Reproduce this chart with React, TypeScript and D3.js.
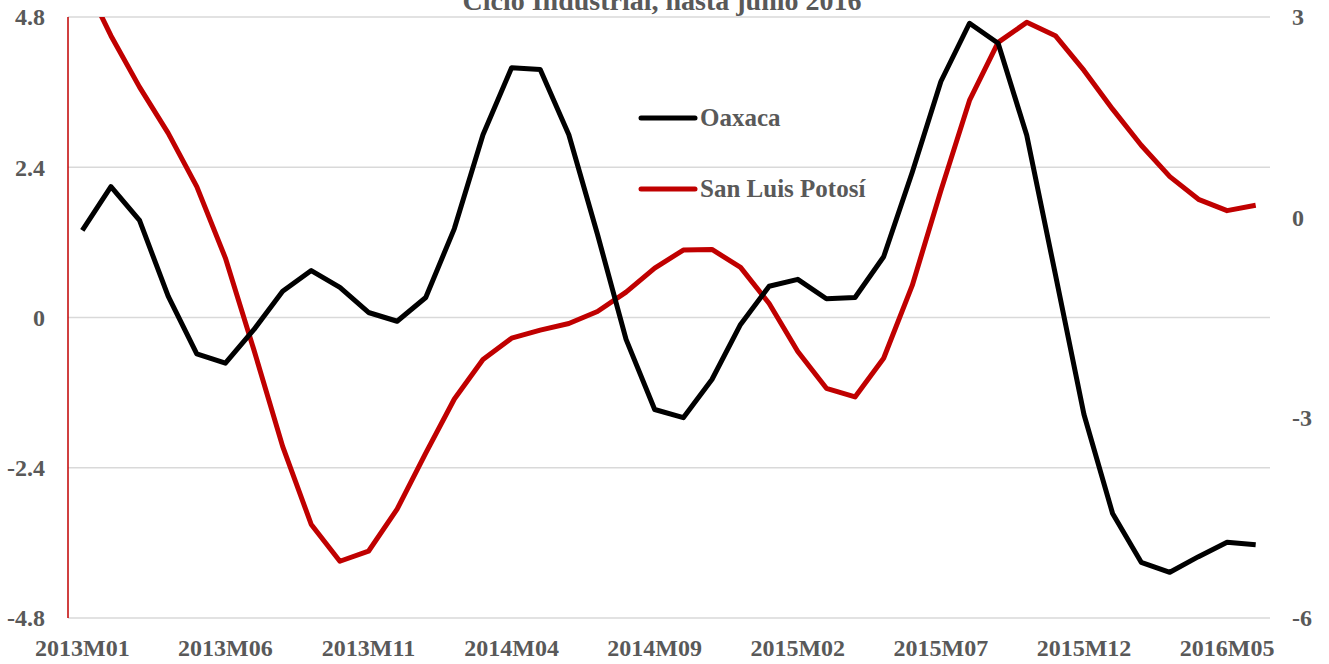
import { useMemo } from 'react';
import * as d3 from 'd3';

const WIDTH = 1329;
const HEIGHT = 664;
const MARGIN = { top: 17, right: 59, bottom: 46, left: 68 };

const TITLE = 'Ciclo Industrial, hasta junio 2016';

const years = ['2013', '2014', '2015', '2016'];
const months = ['01', '02', '03', '04', '05', '06', '07', '08', '09', '10', '11', '12'];
// 2013M01 .. 2016M06
const periods = years
  .flatMap((y) => months.map((m) => `${y}M${m}`))
  .slice(0, 42);

const oaxaca = [
  1.39, 2.09, 1.55, 0.34, -0.58, -0.73, -0.19, 0.42, 0.75, 0.48,
  0.08, -0.06, 0.32, 1.42, 2.92, 3.99, 3.96, 2.92, 1.33, -0.35,
  -1.47, -1.6, -0.99, -0.11, 0.5, 0.61, 0.3, 0.32, 0.97, 2.32,
  3.77, 4.7, 4.38, 2.91, 0.69, -1.55, -3.13, -3.91, -4.07, -3.82,
  -3.59, -3.63,
];

const sanLuisPotosi = [
  3.6, 2.72, 1.95, 1.26, 0.46, -0.61, -1.99, -3.43, -4.6, -5.15,
  -5.0, -4.37, -3.53, -2.72, -2.13, -1.81, -1.69, -1.59, -1.41, -1.12,
  -0.76, -0.49, -0.48, -0.75, -1.29, -2.01, -2.56, -2.69, -2.11, -1.02,
  0.4, 1.75, 2.62, 2.92, 2.72, 2.2, 1.62, 1.08, 0.61, 0.27,
  0.1, 0.18,
];

const leftTicks = [-4.8, -2.4, 0, 2.4, 4.8];
const rightTicks = [-6, -3, 0, 3];
const xLabelEvery = 5;

const FONT = '"Liberation Serif", "DejaVu Serif", serif';
const TEXT_COLOR = '#595959';

export default function App() {
  const innerW = WIDTH - MARGIN.left - MARGIN.right;
  const innerH = HEIGHT - MARGIN.top - MARGIN.bottom;

  const x = useMemo(
    () => d3.scaleBand<string>().domain(periods).range([0, innerW]),
    [innerW],
  );
  const yLeft = useMemo(
    () => d3.scaleLinear().domain([-4.8, 4.8]).range([innerH, 0]),
    [innerH],
  );
  const yRight = useMemo(
    () => d3.scaleLinear().domain([-6, 3]).range([innerH, 0]),
    [innerH],
  );

  const cx = (i: number) => (x(periods[i]) ?? 0) + x.bandwidth() / 2;

  const lineLeft = d3.line<number>().x((_, i) => cx(i)).y((d) => yLeft(d));
  const lineRight = d3.line<number>().x((_, i) => cx(i)).y((d) => yRight(d));

  return (
    <svg width={WIDTH} height={HEIGHT} style={{ position: 'absolute', left: 0, top: 0 }}>
      <defs>
        <clipPath id="plot-clip">
          <rect x={0} y={0} width={innerW} height={innerH} />
        </clipPath>
      </defs>
      {/* title is partly above the visible area, as in the source */}
      <text
        x={662}
        y={10}
        textAnchor="middle"
        fontFamily={FONT}
        fontWeight="bold"
        fontSize={28}
        fill={TEXT_COLOR}
      >
        {TITLE}
      </text>
      <g transform={`translate(${MARGIN.left}, ${MARGIN.top})`}>
        {leftTicks.map((t) => (
          <line
            key={`g${t}`}
            x1={0}
            x2={innerW}
            y1={yLeft(t)}
            y2={yLeft(t)}
            stroke="#d9d9d9"
            strokeWidth={1.5}
          />
        ))}
        <line x1={0} x2={0} y1={0} y2={innerH} stroke="#c00000" strokeWidth={1.5} />

        {leftTicks.map((t) => (
          <text
            key={`l${t}`}
            x={-23}
            y={yLeft(t)}
            dy="0.35em"
            textAnchor="end"
            fontFamily={FONT}
            fontWeight="bold"
            fontSize={24}
            fill={TEXT_COLOR}
          >
            {t === 0 ? '0' : t.toFixed(1)}
          </text>
        ))}
        {rightTicks.map((t) => (
          <text
            key={`r${t}`}
            x={innerW + 22}
            y={yRight(t)}
            dy="0.35em"
            textAnchor="start"
            fontFamily={FONT}
            fontWeight="bold"
            fontSize={24}
            fill={TEXT_COLOR}
          >
            {t}
          </text>
        ))}
        {periods.map((p, i) =>
          i % xLabelEvery === 0 ? (
            <text
              key={p}
              x={cx(i)}
              y={innerH + 38}
              textAnchor="middle"
              fontFamily={FONT}
              fontWeight="bold"
              fontSize={24}
              fill={TEXT_COLOR}
            >
              {p}
            </text>
          ) : null,
        )}

        <g clipPath="url(#plot-clip)">
          <path
            d={lineRight(sanLuisPotosi) ?? ''}
            fill="none"
            stroke="#c00000"
            strokeWidth={5}
            strokeLinejoin="round"
          />
          <path
            d={lineLeft(oaxaca) ?? ''}
            fill="none"
            stroke="#000000"
            strokeWidth={5}
            strokeLinejoin="round"
          />
        </g>

        <g transform={`translate(${641 - MARGIN.left}, ${118 - MARGIN.top})`}>
          <line x1={0} x2={54} y1={0} y2={0} stroke="#000" strokeWidth={5} strokeLinecap="round" />
          <text x={59} y={0} dy="0.33em" fontFamily={FONT} fontWeight="bold" fontSize={25} fill={TEXT_COLOR}>
            Oaxaca
          </text>
          <line x1={0} x2={54} y1={71} y2={71} stroke="#c00000" strokeWidth={5} strokeLinecap="round" />
          <text x={59} y={71} dy="0.33em" fontFamily={FONT} fontWeight="bold" fontSize={25} fill={TEXT_COLOR}>
            San Luis Potosí
          </text>
        </g>
      </g>
    </svg>
  );
}
